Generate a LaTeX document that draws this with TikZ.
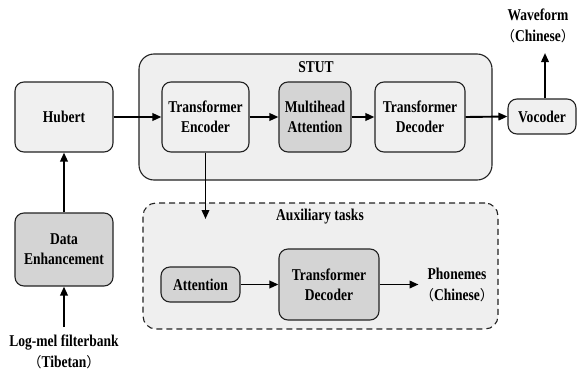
\documentclass[tikz,border=0pt]{standalone}
\usepackage{fontspec}
\setmainfont{Liberation Serif}[FakeStretch=0.82]
\newfontfamily\cjk{Noto Sans CJK SC}
\usetikzlibrary{arrows.meta}
\definecolor{lightbox}{HTML}{F0F0F0}
\definecolor{darkbox}{HTML}{D4D4D4}
\definecolor{contfill}{HTML}{EFEFEF}
\definecolor{edge}{HTML}{222222}
\tikzset{
  box/.style={draw=edge, line width=1.1pt, rounded corners=9pt, fill=lightbox, align=center,
    font=\fontsize{16.5}{20}\selectfont\bfseries, inner sep=0pt},
  darkb/.style={box, fill=darkbox},
  container/.style={draw=edge, line width=1.1pt, rounded corners=15pt, fill=contfill, inner sep=0pt},
  lbl/.style={align=center, font=\fontsize{16.5}{21}\selectfont\bfseries, inner sep=0pt},
  arr/.style={-{Triangle[length=9pt,width=7.5pt]}, line width=1.9pt, draw=black}
}
\newcommand{\lp}{{\cjk\mdseries\fontsize{14}{14}\selectfont\makebox[0.7em][r]{（}}}
\newcommand{\rp}{{\cjk\mdseries\fontsize{14}{14}\selectfont\makebox[0.7em][l]{）}}}
\begin{document}
\begin{tikzpicture}[x=1pt,y=-1pt]
\useasboundingbox (0,0) rectangle (577,372);
% containers
\node[container, minimum width=353pt, minimum height=126pt] (stut) at (315.5,117) {};
\node[container, dashed, dash pattern=on 6pt off 4pt, rounded corners=13pt, minimum width=355pt, minimum height=126pt] (aux) at (320.5,266) {};
\node[lbl] (stutl) at (316,67) {STUT};
\node[lbl] (auxl) at (320,217) {Auxiliary tasks};
% boxes
\node[box, minimum width=98pt, minimum height=70pt] (hub) at (64,117) {Hubert};
\node[box, minimum width=87pt, minimum height=70pt] (enc) at (205.5,117) {Transformer\\Encoder};
\node[darkb, minimum width=72pt, minimum height=70pt] (mha) at (315,117) {Multihead\\Attention};
\node[box, minimum width=90pt, minimum height=70pt] (dec) at (420,117) {Transformer\\Decoder};
\node[box, minimum width=68pt, minimum height=35pt] (voc) at (542,116.5) {Vocoder};
\node[darkb, minimum width=98pt, minimum height=73pt] (de) at (64,249.5) {Data\\Enhancement};
\node[darkb, minimum width=79pt, minimum height=35pt] (att) at (200.5,284.5) {Attention};
\node[darkb, minimum width=100pt, minimum height=71pt] (adec) at (329,284.5) {Transformer\\Decoder};
% labels
\node[lbl] (wave) at (538,26) {Waveform\\\lp Chinese\rp};
\node[lbl] (phon) at (457,284.5) {Phonemes\\\lp Chinese\rp};
\node[lbl] (logmel) at (64,352) {Log-mel filterbank\\\lp Tibetan\rp};
\coordinate (encin) at (205.5,219);
\coordinate (waveend) at (545,53);
\coordinate (logstart) at (64,327);
% arrows
\draw[arr] (hub.east) -- (enc.west);
\draw[arr] (enc.east) -- (mha.west);
\draw[arr] (mha.east) -- (dec.west);
\draw[arr] (dec.east) -- (voc.west);
\draw[arr] (voc.north -| waveend) -- (waveend);
\draw[arr] (de.north) -- (hub.south);
\draw[arr] (logstart) -- (de.south);
\draw[arr] (enc.south) -- (encin);
\draw[arr] (att.east) -- (adec.west);
\draw[arr] (adec.east) -- ++(39,0) coordinate (phonin);
\end{tikzpicture}
\end{document}
